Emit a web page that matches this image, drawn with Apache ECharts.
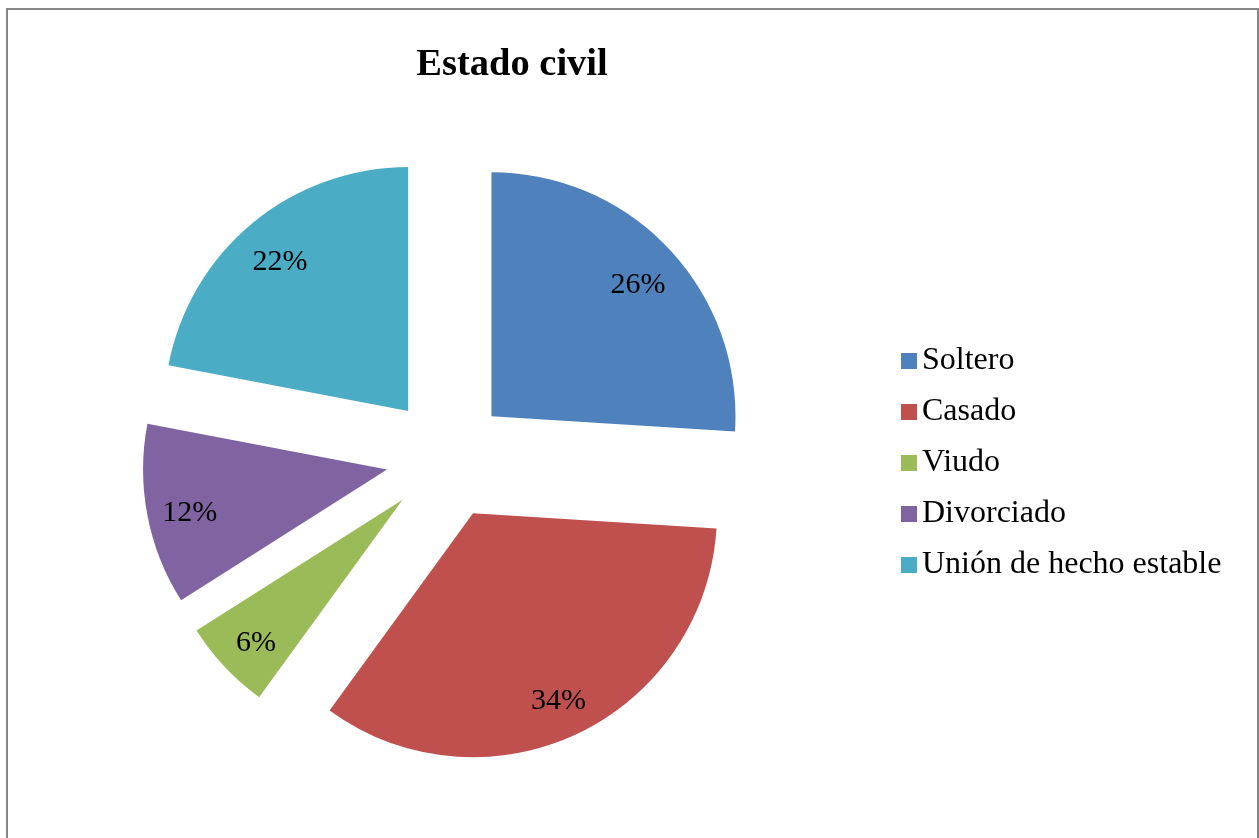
<!DOCTYPE html>
<html>
<head>
<meta charset="utf-8">
<script src="https://cdn.jsdelivr.net/npm/echarts@6/dist/echarts.min.js"></script>
<style>
  html, body { margin: 0; padding: 0; background: #fff; }
  #main { width: 1259px; height: 838px; }
</style>
</head>
<body>
<div id="main"></div>
<script>
// datos del gráfico
var categorias = ['Soltero', 'Casado', 'Viudo', 'Divorciado', 'Unión de hecho estable'];
var valores = [26, 34, 6, 12, 22];
var colores = ['#4F81BD', '#C0504D', '#9BBB59', '#8064A2', '#4BACC6'];

var myChart = echarts.init(document.getElementById('main'));

function buildData(transparent) {
    return categorias.map(function (c, i) {
        return {
            name: c,
            value: valores[i],
            selected: true,
            itemStyle: { color: transparent ? 'rgba(0,0,0,0)' : colores[i] }
        };
    });
}

var serif = '"Liberation Serif", "Times New Roman", serif';
var center = [447, 458];

var option = {
    animation: false,
    title: {
        text: 'Estado civil',
        left: 507,
        textAlign: 'center',
        top: 41,
        textStyle: { fontFamily: serif, fontSize: 38.5, fontWeight: 'bold', color: '#000' }
    },
    legend: {
        orient: 'vertical',
        left: 901,
        top: 345,
        padding: 0,
        itemWidth: 16,
        itemHeight: 16,
        itemGap: 19,
        icon: 'rect',
        data: categorias,
        textStyle: { fontFamily: serif, fontSize: 32, color: '#000' }
    },
    graphic: [{
        type: 'rect',
        shape: { x: 7, y: 9, width: 1251, height: 840 },
        style: { fill: 'none', stroke: '#868686', lineWidth: 2 },
        silent: true
    }],
    series: [
        {
            name: 'Estado civil',
            type: 'pie',
            center: center,
            radius: 244,
            startAngle: 90,
            clockwise: true,
            selectedMode: 'multiple',
            selectedOffset: 61,
            label: { show: false },
            labelLine: { show: false },
            emphasis: { disabled: true },
            silent: true,
            data: buildData(false)
        },
        {
            // solo etiquetas, colocadas hacia el borde
            name: 'etiquetas',
            type: 'pie',
            center: center,
            radius: [152, 244],
            startAngle: 90,
            clockwise: true,
            selectedMode: 'multiple',
            selectedOffset: 61,
            silent: true,
            emphasis: { disabled: true },
            label: {
                show: true,
                position: 'inside',
                formatter: function (p) { return '{v|' + Math.round(p.percent) + '%}'; },
                rich: {
                    v: {
                        fontFamily: serif,
                        fontSize: 30,
                        color: '#000',
                        padding: [12, 0, 0, 0]
                    }
                }
            },
            labelLine: { show: false },
            data: buildData(true)
        }
    ]
};

myChart.setOption(option);
window.onresize = myChart.resize;
</script>
</body>
</html>
